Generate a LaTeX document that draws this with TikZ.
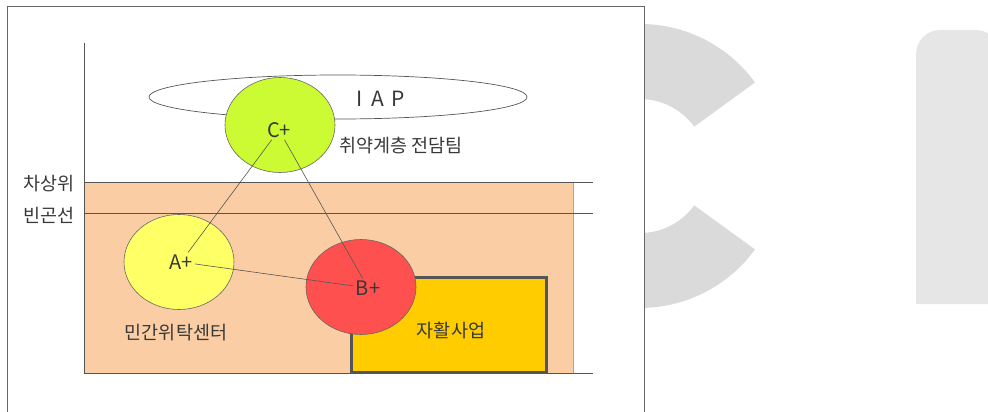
\documentclass[tikz,border=0pt]{standalone}
\usepackage{fontspec}
\setmainfont{Noto Sans CJK KR}
\usetikzlibrary{shapes.geometric}
\definecolor{peach}{HTML}{FACDA5}
\definecolor{cgreen}{HTML}{CCFA33}
\definecolor{ayellow}{HTML}{FFFF66}
\definecolor{bred}{HTML}{FF5050}
\definecolor{gold}{HTML}{FFCC00}
\definecolor{txt}{HTML}{383838}
\definecolor{ln}{HTML}{555555}
\definecolor{wmA}{HTML}{DADADA}
\definecolor{wmB}{HTML}{E6E6E6}
\tikzset{
  thinline/.style={draw=ln, line width=0.7pt},
  bubble/.style={ellipse, draw=ln!90, line width=0.6pt, minimum width=110pt, minimum height=95pt, inner sep=0pt},
  kor/.style={text=txt, font=\fontsize{18.5}{21}\selectfont, inner sep=1pt},
  lat/.style={text=txt, font=\fontsize{20}{22}\selectfont, inner sep=2pt},
  conn/.style={draw=ln, line width=0.6pt},
}
\begin{document}
\begin{tikzpicture}[x=1pt,y=-1pt]
\useasboundingbox (0,0) rectangle (988,412);
% background watermark shapes
\begin{scope}
  \clip (645,0) rectangle (988,412);
  \fill[wmA] (755,82.5) arc[start angle=-36, end angle=-324, radius=142]
     -- (694.2,205.4) arc[start angle=36, end angle=324, radius=67] -- cycle;
\end{scope}
\fill[wmB] (916,304) {[rounded corners=24pt] -- (916,30) -- (1000,30)} -- (1000,304) -- cycle;
% frame
\draw[draw=ln!90, line width=0.8pt] (7,412) -- (7,6) -- (644,6) -- (644,412);
% peach band
\fill[peach] (84,182) rectangle (573,373);
\draw[draw=black!35, line width=0.8pt] (573,182) -- (573,373);
\draw[thinline] (84,182) -- (593,182);
\draw[thinline] (84,213) -- (593,213);
\draw[thinline] (84,373) -- (593,373);
\draw[thinline] (84,43) -- (84,373);
% IAP ellipse
\node[ellipse, draw=ln, line width=0.7pt, minimum width=378pt, minimum height=44pt, inner sep=0pt] (iap) at (338,97) {};
\node[text=txt, font=\fontsize{21}{23}\selectfont, inner sep=0pt] (iapt) at (381,99) {I\hspace{8pt}A\hspace{8pt}P};
% circles and box
\node[bubble, fill=cgreen] (cc) at (280,125) {};
\node[bubble, fill=ayellow] (ac) at (179,262) {};
\node[rectangle, draw=ln, line width=2.5pt, fill=gold, minimum width=195pt, minimum height=95pt, inner sep=0pt] (jh) at (449,325) {};
\node[bubble, fill=bred] (bc) at (361,287) {};
% labels
\node[lat] (ct) at (279,130) {C+};
\node[lat] (at) at (181,262) {A+};
\node[lat] (bt) at (368,288) {B+};
\node[kor] (team) at (401,146) {취약계층 전담팀};
\node[kor] (near) at (49,184) {차상위};
\node[kor] (pov) at (49,215) {빈곤선};
\node[kor] (cent) at (176,333) {민간위탁센터};
\node[kor] (jht) at (451,330) {자활사업};
% connectors
\draw[conn] (ct) -- (at);
\draw[conn] (ct) -- (bt);
\draw[conn] (at) -- (bt);
\end{tikzpicture}
\end{document}
